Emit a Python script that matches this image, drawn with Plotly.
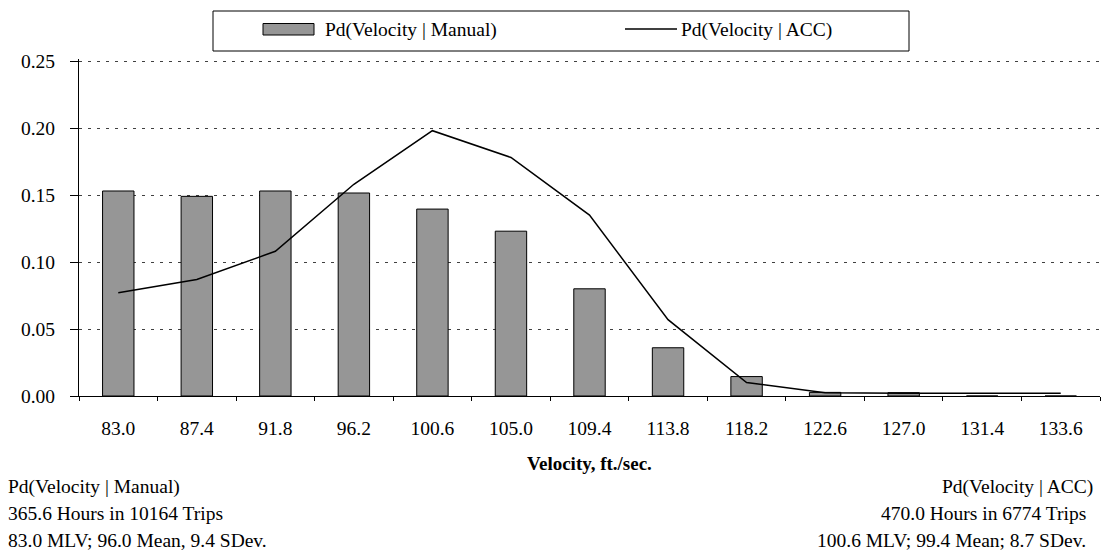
import plotly.graph_objects as go

categories = ["83.0", "87.4", "91.8", "96.2", "100.6", "105.0", "109.4",
              "113.8", "118.2", "122.6", "127.0", "131.4", "133.6"]
manual = [0.153, 0.149, 0.153, 0.1515, 0.1395, 0.123, 0.080, 0.036, 0.0145,
          0.0027, 0.0025, 0.0, 0.0]
acc = [0.077, 0.087, 0.108, 0.158, 0.198, 0.178, 0.135, 0.057, 0.010,
       0.0025, 0.002, 0.002, 0.002]
yticks = [0.00, 0.05, 0.10, 0.15, 0.20, 0.25]
series_names = ["Pd(Velocity | Manual)", "Pd(Velocity | ACC)"]
x_title = "Velocity, ft./sec."
left_lines = ["Pd(Velocity | Manual)", "365.6 Hours in 10164 Trips",
              "83.0 MLV; 96.0 Mean, 9.4 SDev."]
right_lines = ["Pd(Velocity | ACC)", "470.0 Hours in 6774 Trips",
               "100.6 MLV; 99.4 Mean; 8.7 SDev."]

FONT = "Liberation Serif"
BAR_COLOR = "#969696"

W, H = 1102, 554
L, R, T, B = 79, 2, 59, 158
PW, PH = W - L - R, H - T - B


def px(xp):
    return (xp - L) / PW


def py(yp):
    return (H - B - yp) / PH


fig = go.Figure()
fig.add_trace(go.Bar(
    x=categories, y=manual, name=series_names[0],
    marker=dict(color=BAR_COLOR, line=dict(color="#000000", width=1)),
    width=0.40,
))
fig.add_trace(go.Scatter(
    x=categories, y=acc, name=series_names[1], mode="lines",
    line=dict(color="#000000", width=1.5),
))

fig.update_layout(
    width=W, height=H,
    margin=dict(l=L, r=R, t=T, b=B),
    paper_bgcolor="white", plot_bgcolor="white",
    font=dict(family=FONT, size=19.5, color="black"),
    showlegend=False,
    xaxis=dict(
        type="category", showline=True, linecolor="black", linewidth=1,
        ticks="outside", ticklen=4, tickcolor="black", tickson="boundaries",
        ticklabelstandoff=15,
        showgrid=False, tickfont=dict(family=FONT, size=19.5),
    ),
    yaxis=dict(
        range=[0, 0.2515], tickvals=yticks, tickformat=".2f",
        showline=True, linecolor="black", linewidth=1,
        ticks="outside", ticklen=8, tickcolor="black",
        ticklabelstandoff=11,
        showgrid=True, gridcolor="#404040", gridwidth=1, griddash="3px,6px",
        zeroline=False, tickfont=dict(family=FONT, size=19.5),
    ),
)

# legend (drawn manually to mimic the wide bar swatch)
fig.add_shape(type="rect", xref="paper", yref="paper",
              x0=px(213), x1=px(909), y0=py(11), y1=py(51),
              line=dict(color="black", width=1), fillcolor="white", layer="above")
fig.add_shape(type="rect", xref="paper", yref="paper",
              x0=px(263), x1=px(314), y0=py(23.5), y1=py(35),
              line=dict(color="black", width=1), fillcolor=BAR_COLOR, layer="above")
fig.add_shape(type="line", xref="paper", yref="paper",
              x0=px(625), x1=px(677), y0=py(29), y1=py(29),
              line=dict(color="black", width=1.5), layer="above")
fig.add_annotation(text=series_names[0], xref="paper", yref="paper",
                   x=px(323), y=py(30), showarrow=False, xanchor="left", yanchor="middle",
                   font=dict(family=FONT, size=19.5))
fig.add_annotation(text=series_names[1], xref="paper", yref="paper",
                   x=px(679), y=py(30), showarrow=False, xanchor="left", yanchor="middle",
                   font=dict(family=FONT, size=19.5))

fig.add_annotation(text="<b>" + x_title + "</b>", xref="paper", yref="paper",
                   x=0.5, y=py(463), showarrow=False, xanchor="center", yanchor="middle",
                   font=dict(family=FONT, size=19))

ys = [487, 513, 540]
right_x = [1093, 1086, 1086]
for t, yy in zip(left_lines, ys):
    fig.add_annotation(text=t, xref="paper", yref="paper", x=px(6), y=py(yy),
                       showarrow=False, xanchor="left", yanchor="middle",
                       font=dict(family=FONT, size=19.5))
for t, yy, xx in zip(right_lines, ys, right_x):
    fig.add_annotation(text=t, xref="paper", yref="paper", x=px(xx + 2), y=py(yy),
                       showarrow=False, xanchor="right", yanchor="middle",
                       font=dict(family=FONT, size=19.5))

fig.write_html("out.html", config={"displayModeBar": False},
               post_script="document.body.style.margin='0';document.body.style.padding='0';")
